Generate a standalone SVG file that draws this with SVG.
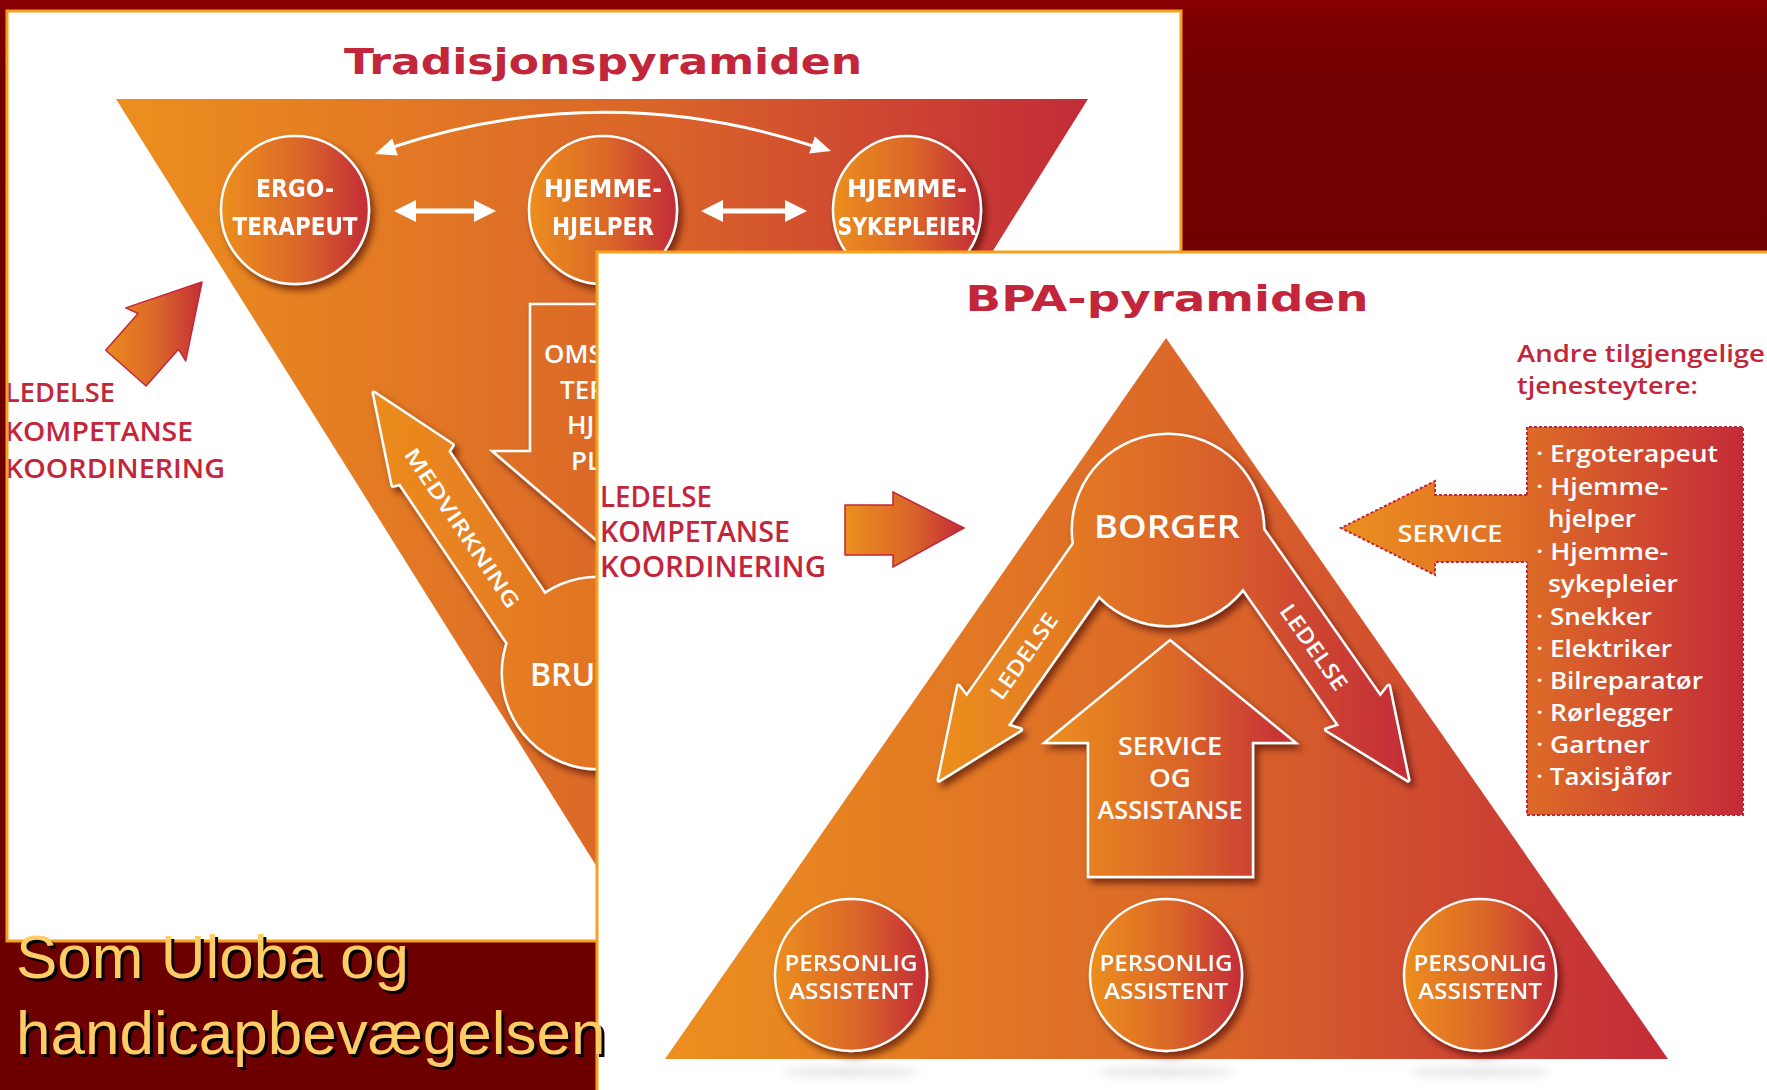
<svg xmlns="http://www.w3.org/2000/svg" width="1767" height="1090" viewBox="0 0 1767 1090">
<style>
.sb{font-family:"Open Sans","DejaVu Sans",sans-serif;font-weight:600}
.cd{font-family:"DejaVu Sans Condensed","Liberation Sans Narrow","Open Sans",sans-serif;font-weight:bold}
.wt{fill:#fff}
.cr{fill:#c3263a}
.ttl{font-family:"DejaVu Sans","Liberation Sans",sans-serif;font-weight:bold;fill:#c3263a;font-size:36px}
.mid{text-anchor:middle}
.ws{stroke:#fff;stroke-width:5;stroke-linejoin:round}
.big{font-family:"Liberation Sans",Arial,sans-serif;font-size:62px}
.pan{fill:#fff;stroke:#f5a11e;stroke-width:3}
</style>
<defs>
<linearGradient id="bg" gradientUnits="userSpaceOnUse" x1="0" y1="0" x2="0" y2="1090">
<stop offset="0" stop-color="#8a0000"/><stop offset="0.02" stop-color="#7c0000"/><stop offset="0.08" stop-color="#710000"/><stop offset="1" stop-color="#6c0000"/>
</linearGradient>
<linearGradient id="og" x1="0" y1="0" x2="1" y2="0">
<stop offset="0" stop-color="#ec8f1e"/><stop offset="0.55" stop-color="#da6529"/><stop offset="1" stop-color="#c32b38"/>
</linearGradient>
<linearGradient id="t1" href="#og" gradientUnits="userSpaceOnUse" x1="116" y1="0" x2="1088" y2="0"/>
<linearGradient id="t2" href="#og" gradientUnits="userSpaceOnUse" x1="665" y1="0" x2="1668" y2="0"/>
<linearGradient id="bo" href="#og" gradientUnits="userSpaceOnUse" x1="935" y1="0" x2="1412" y2="0"/>
<linearGradient id="la" href="#og" gradientUnits="userSpaceOnUse" x1="100" y1="0" x2="205" y2="0"/>
<linearGradient id="br" gradientUnits="userSpaceOnUse" x1="370" y1="0" x2="760" y2="0">
<stop offset="0" stop-color="#ec8c1e"/><stop offset="1" stop-color="#d96228"/>
</linearGradient>
<linearGradient id="sv" gradientUnits="userSpaceOnUse" x1="1340" y1="0" x2="1745" y2="0">
<stop offset="0" stop-color="#ec8f1e"/><stop offset="0.45" stop-color="#de6d27"/><stop offset="1" stop-color="#c42a38"/>
</linearGradient>
<filter id="sh" x="-30%" y="-30%" width="160%" height="160%">
<feDropShadow dx="4" dy="5" stdDeviation="3.5" flood-color="#3a0600" flood-opacity="0.6"/>
</filter>
<filter id="bl" x="-20%" y="-200%" width="140%" height="500%"><feGaussianBlur stdDeviation="5"/></filter>
<clipPath id="c1"><rect x="8.5" y="12.5" width="1171" height="927"/></clipPath>
</defs>

<rect width="1767" height="1090" fill="url(#bg)"/>

<!-- Panel 1 -->
<g id="panel-tradisjon">
<rect class="pan" x="7" y="11" width="1174" height="930"/>
<g clip-path="url(#c1)">
<text class="ttl mid" x="603" y="74" textLength="518" lengthAdjust="spacingAndGlyphs">Tradisjonspyramiden</text>
<polygon points="116,99 1088,99 602,875" fill="url(#t1)"/>

<g id="node-ergoterapeut" filter="url(#sh)">
<circle cx="295" cy="210" r="74" fill="url(#og)" stroke="#fff" stroke-width="2.5"/>
<text class="cd wt mid" x="295" y="197" font-size="24" textLength="78" lengthAdjust="spacingAndGlyphs">ERGO-</text>
<text class="cd wt mid" x="295" y="235" font-size="24" textLength="125" lengthAdjust="spacingAndGlyphs">TERAPEUT</text>
</g>
<g id="node-hjemmehjelper" filter="url(#sh)">
<circle cx="603" cy="210" r="74" fill="url(#og)" stroke="#fff" stroke-width="2.5"/>
<text class="cd wt mid" x="603" y="197" font-size="24" textLength="118" lengthAdjust="spacingAndGlyphs">HJEMME-</text>
<text class="cd wt mid" x="603" y="235" font-size="24" textLength="102" lengthAdjust="spacingAndGlyphs">HJELPER</text>
</g>
<g id="node-hjemmesykepleier" filter="url(#sh)">
<circle cx="907" cy="210" r="74" fill="url(#og)" stroke="#fff" stroke-width="2.5"/>
<text class="cd wt mid" x="907" y="197" font-size="24" textLength="120" lengthAdjust="spacingAndGlyphs">HJEMME-</text>
<text class="cd wt mid" x="907" y="235" font-size="24" textLength="139" lengthAdjust="spacingAndGlyphs">SYKEPLEIER</text>
</g>

<g id="connectors" fill="#fff">
<polygon points="394,211 416,200 416,208.5 474,208.5 474,200 496,211 474,222 474,213.5 416,213.5 416,222"/>
<polygon points="701,211 723,200 723,208.5 785,208.5 785,200 807,211 785,222 785,213.5 723,213.5 723,222"/>
<path d="M393,147 Q604,78 813,146" fill="none" stroke="#fff" stroke-width="3"/>
<polygon points="375,154 397.8,155.6 392.2,138.4"/>
<polygon points="831,151 809.2,153.6 814.8,136.4"/>
</g>

<g id="node-ledelse-arrow-1">
<polygon points="202,282 185.7,360.9 178.5,349.3 146.1,386 105.7,350.2 138.1,313.5 125.7,307.9" fill="url(#la)" stroke="#c3263a" stroke-width="1.5" stroke-linejoin="round"/>
</g>
<g id="node-ledelse-text-1" class="sb cr" font-size="27">
<text x="5" y="402" textLength="110" lengthAdjust="spacingAndGlyphs">LEDELSE</text>
<text x="5" y="441" textLength="188" lengthAdjust="spacingAndGlyphs">KOMPETANSE</text>
<text x="5" y="478" textLength="220" lengthAdjust="spacingAndGlyphs">KOORDINERING</text>
</g>

<g id="node-omsorg-arrow">
<polygon points="530,304 690,304 690,451 728,451 610,552 492,451 530,451" fill="url(#t1)" stroke="#fff" stroke-width="2.5" stroke-linejoin="miter" filter="url(#sh)"/>
<g class="sb wt" font-size="26">
<text x="544" y="363">OMS</text>
<text x="560" y="399">TER</text>
<text x="567" y="434">HJ</text>
<text x="571" y="470">PL</text>
</g>
</g>

<g id="node-bruker">
<g filter="url(#sh)">
<circle cx="598" cy="673" r="95" fill="none" class="ws"/>
<polygon points="374,393 452.4,445 448.3,451.4 571.3,633.8 523.3,666.2 400.3,483.8 392.8,485.2" fill="none" class="ws"/>
<circle cx="598" cy="673" r="95" fill="url(#br)"/>
<polygon points="374,393 452.4,445 448.3,451.4 571.3,633.8 523.3,666.2 400.3,483.8 392.8,485.2" fill="url(#br)"/>
</g>
<text class="sb wt" x="462" y="528" font-size="21" text-anchor="middle" dy="7.5" transform="rotate(56 462 528)" textLength="188" lengthAdjust="spacingAndGlyphs">MEDVIRKNING</text>
<text class="sb wt" x="530" y="686" font-size="32">BRU</text>
</g>
</g>
</g>

<!-- Panel 2 -->
<g id="panel-bpa">
<rect class="pan" x="597" y="252" width="1180" height="850"/>
<text class="ttl mid" x="1167" y="311" textLength="403" lengthAdjust="spacingAndGlyphs">BPA-pyramiden</text>

<g opacity="0.1" filter="url(#bl)">
<ellipse cx="851" cy="1072" rx="70" ry="5"/>
<ellipse cx="1166" cy="1072" rx="70" ry="5"/>
<ellipse cx="1480" cy="1072" rx="70" ry="5"/>
</g>
<polygon id="bpa-triangle" points="1166,338 1668,1059 665,1059" fill="url(#t2)"/>

<g id="node-assistent-1" filter="url(#sh)">
<circle cx="851" cy="975" r="76" fill="url(#og)" stroke="#fff" stroke-width="2.5"/>
<text class="sb wt mid" x="851" y="971" font-size="22" textLength="133" lengthAdjust="spacingAndGlyphs">PERSONLIG</text>
<text class="sb wt mid" x="851" y="999" font-size="22" textLength="124" lengthAdjust="spacingAndGlyphs">ASSISTENT</text>
</g>
<g id="node-assistent-2" filter="url(#sh)">
<circle cx="1166" cy="975" r="76" fill="url(#og)" stroke="#fff" stroke-width="2.5"/>
<text class="sb wt mid" x="1166" y="971" font-size="22" textLength="133" lengthAdjust="spacingAndGlyphs">PERSONLIG</text>
<text class="sb wt mid" x="1166" y="999" font-size="22" textLength="124" lengthAdjust="spacingAndGlyphs">ASSISTENT</text>
</g>
<g id="node-assistent-3" filter="url(#sh)">
<circle cx="1480" cy="975" r="76" fill="url(#og)" stroke="#fff" stroke-width="2.5"/>
<text class="sb wt mid" x="1480" y="971" font-size="22" textLength="133" lengthAdjust="spacingAndGlyphs">PERSONLIG</text>
<text class="sb wt mid" x="1480" y="999" font-size="22" textLength="124" lengthAdjust="spacingAndGlyphs">ASSISTENT</text>
</g>

<g id="node-service-assistanse">
<polygon points="1170,640 1296,743 1253,743 1253,877 1088,877 1088,743 1044,743" fill="url(#og)" stroke="#fff" stroke-width="2.5" filter="url(#sh)"/>
<text class="sb wt mid" x="1170" y="755" font-size="25" textLength="104" lengthAdjust="spacingAndGlyphs">SERVICE</text>
<text class="sb wt mid" x="1170" y="787" font-size="25" textLength="42" lengthAdjust="spacingAndGlyphs">OG</text>
<text class="sb wt mid" x="1170" y="819" font-size="25" textLength="145" lengthAdjust="spacingAndGlyphs">ASSISTANSE</text>
</g>

<g id="node-borger">
<g filter="url(#sh)">
<circle cx="1168" cy="530" r="95" fill="none" class="ws"/>
<polygon points="939,780 958.4,686.1 966.7,696.85 1090.7,519.95 1131.7,548.7 1007.7,725.6 1020.6,729.7" fill="none" class="ws"/>
<polygon points="1408,780 1388.6,686.1 1380.3,696.85 1256.3,519.95 1215.3,548.65 1339.3,725.55 1326.4,729.7" fill="none" class="ws"/>
<circle cx="1168" cy="530" r="95" fill="url(#bo)"/>
<polygon points="939,780 958.4,686.1 966.7,696.85 1090.7,519.95 1131.7,548.7 1007.7,725.6 1020.6,729.7" fill="url(#bo)"/>
<polygon points="1408,780 1388.6,686.1 1380.3,696.85 1256.3,519.95 1215.3,548.65 1339.3,725.55 1326.4,729.7" fill="url(#bo)"/>
</g>
<text class="sb wt mid" x="1167" y="538" font-size="32" textLength="146" lengthAdjust="spacingAndGlyphs">BORGER</text>
<text class="sb wt mid" x="1024" y="656" dy="8" font-size="22" transform="rotate(-55 1024 656)" textLength="100" lengthAdjust="spacingAndGlyphs">LEDELSE</text>
<text class="sb wt mid" x="1314" y="647" dy="8" font-size="22" transform="rotate(55 1314 647)" textLength="100" lengthAdjust="spacingAndGlyphs">LEDELSE</text>
</g>

<g id="node-ledelse-text-2" class="sb cr" font-size="28">
<text x="600" y="507" textLength="112" lengthAdjust="spacingAndGlyphs">LEDELSE</text>
<text x="600" y="542" textLength="190" lengthAdjust="spacingAndGlyphs">KOMPETANSE</text>
<text x="600" y="577" textLength="226" lengthAdjust="spacingAndGlyphs">KOORDINERING</text>
</g>
<g id="node-ledelse-arrow-2">
<polygon points="845,505 893,505 893,492 964,528 893,567 893,555 845,555" fill="url(#og)" stroke="#c3263a" stroke-width="1.5" stroke-linejoin="miter"/>
</g>

<g id="node-andre" class="sb cr" font-size="24" font-weight="700">
<text x="1517" y="362" textLength="248" lengthAdjust="spacingAndGlyphs">Andre tilgjengelige</text>
<text x="1517" y="394" textLength="181" lengthAdjust="spacingAndGlyphs">tjenesteytere:</text>
</g>

<g id="node-tjenesteytere">
<rect x="1527" y="427" width="216" height="388" fill="url(#sv)"/>
<polygon points="1341,528 1435,481 1435,495 1530,495 1530,562 1435,562 1435,575" fill="url(#sv)"/>
<path d="M1527,495 V427 H1743 V815 H1527 V562 M1527,495 H1435 V481 L1341,528 L1435,575 V562 H1527" fill="none" stroke="#c3263a" stroke-width="2" stroke-dasharray="3 2"/>
<text class="sb wt mid" x="1450" y="542" font-size="24" textLength="105" lengthAdjust="spacingAndGlyphs">SERVICE</text>
<g class="sb wt" font-size="24">
<text x="1536" y="462" textLength="182" lengthAdjust="spacingAndGlyphs">· Ergoterapeut</text>
<text x="1536" y="495" textLength="132" lengthAdjust="spacingAndGlyphs">· Hjemme-</text>
<text x="1548" y="527" textLength="88" lengthAdjust="spacingAndGlyphs">hjelper</text>
<text x="1536" y="560" textLength="132" lengthAdjust="spacingAndGlyphs">· Hjemme-</text>
<text x="1548" y="592" textLength="130" lengthAdjust="spacingAndGlyphs">sykepleier</text>
<text x="1536" y="625" textLength="116" lengthAdjust="spacingAndGlyphs">· Snekker</text>
<text x="1536" y="657" textLength="136" lengthAdjust="spacingAndGlyphs">· Elektriker</text>
<text x="1536" y="689" textLength="167" lengthAdjust="spacingAndGlyphs">· Bilreparatør</text>
<text x="1536" y="721" textLength="137" lengthAdjust="spacingAndGlyphs">· Rørlegger</text>
<text x="1536" y="753" textLength="114" lengthAdjust="spacingAndGlyphs">· Gartner</text>
<text x="1536" y="785" textLength="136" lengthAdjust="spacingAndGlyphs">· Taxisjåfør</text>
</g>
</g>
</g>

<!-- Slide text -->
<g id="slide-text" class="big">
<text x="19" y="981" fill="#000">Som Uloba og</text>
<text x="19" y="1057" fill="#000">handicapbevægelsen</text>
<text x="16" y="978" fill="#ffcc66">Som Uloba og</text>
<text x="16" y="1054" fill="#ffcc66">handicapbevægelsen</text>
</g>
</svg>
